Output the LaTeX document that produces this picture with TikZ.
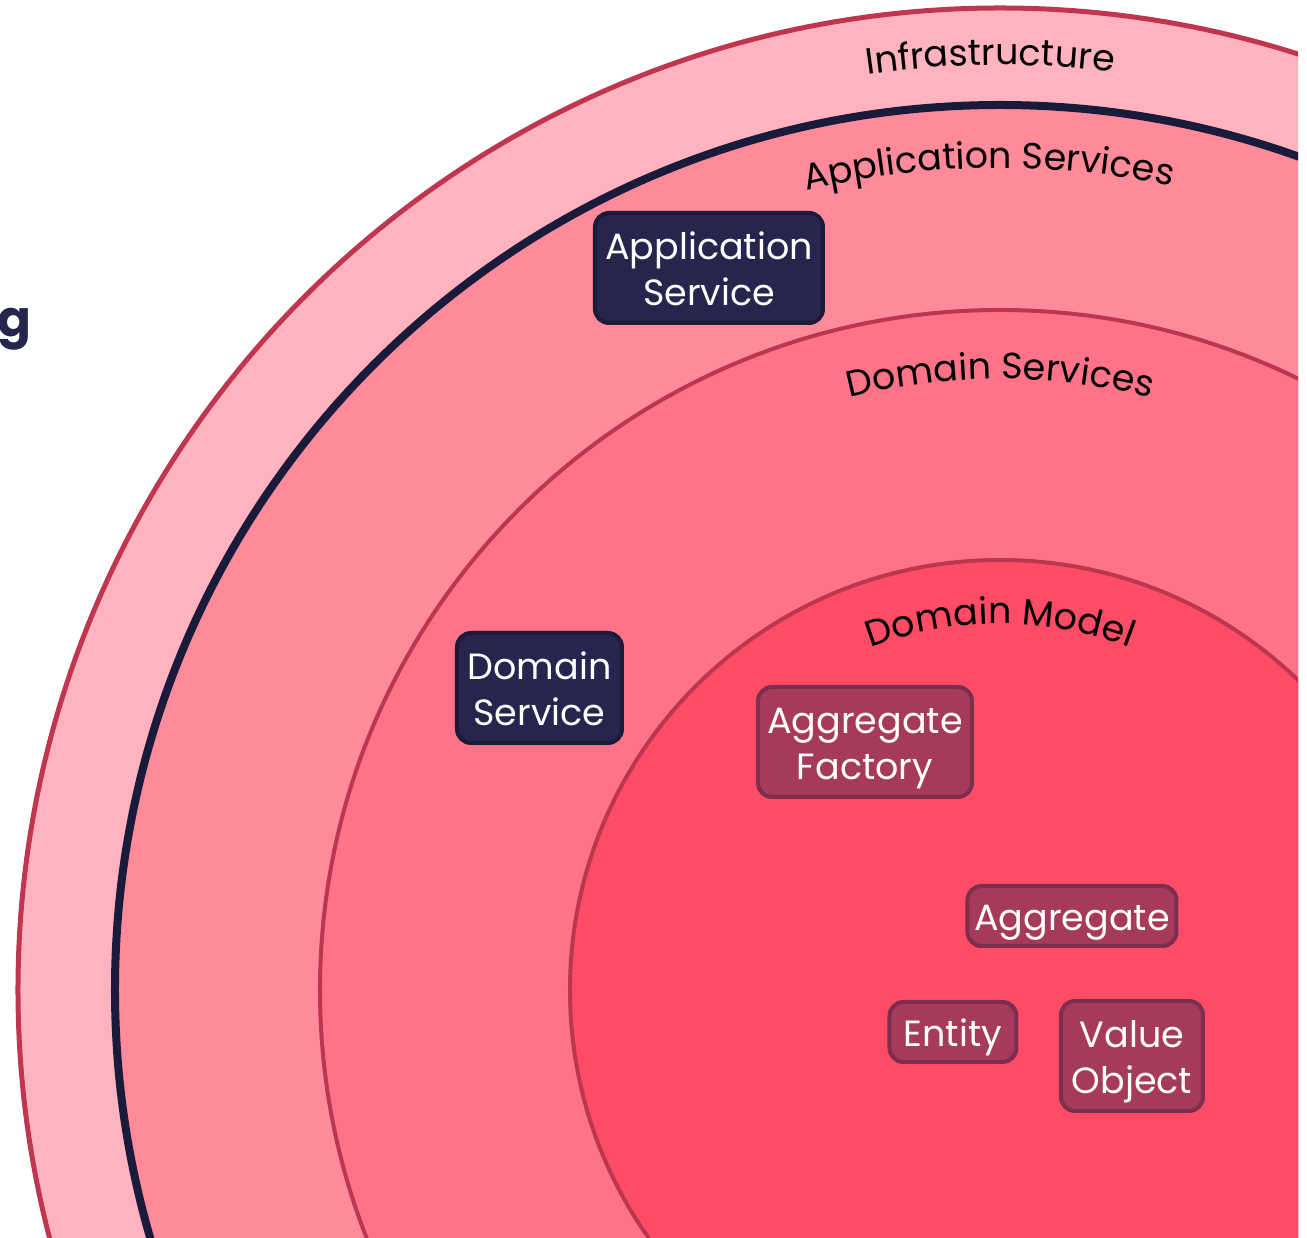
\documentclass[tikz,border=0pt]{standalone}
\usepackage{fontspec}
\setmainfont{Poppins}
\usetikzlibrary{decorations.text}

\definecolor{infraFill}{HTML}{FFB3BF}
\definecolor{infraLine}{HTML}{C0364E}
\definecolor{appFill}{HTML}{FF8A9A}
\definecolor{navyLine}{HTML}{1A1A3A}
\definecolor{dsFill}{HTML}{FF7388}
\definecolor{dmFill}{HTML}{FF4C66}
\definecolor{ringLine}{HTML}{BC3650}
\definecolor{navyBox}{HTML}{25254D}
\definecolor{navyBoxLine}{HTML}{1B1B38}
\definecolor{plumBox}{HTML}{A63A5A}
\definecolor{plumBoxLine}{HTML}{7D2D4D}
\definecolor{titleNavy}{HTML}{25254D}

\newcommand{\boxfont}{\fontsize{36.5}{46}\selectfont}
\newcommand{\ringfont}{\fontsize{36.5}{44}\selectfont}
% box caption, set a little below the optical centre of its box
\newcommand{\boxcaption}[1]{\raisebox{-5pt}[\height][\depth]{\begin{tabular}{@{}c@{}}#1\end{tabular}}}

\tikzset{
  ring/.style={line width=#1},
  svcbox/.style={rounded corners=14, line width=4, text=white,
    font=\boxfont, inner sep=0pt},
  navybox/.style={svcbox, fill=navyBox, draw=navyBoxLine},
  plumbox/.style={svcbox, fill=plumBox, draw=plumBoxLine},
  ringlabel/.style={decorate, decoration={text along path, text align=center,
    text={|\ringfont|#1}}}
}

\begin{document}
\begin{tikzpicture}[x=1pt,y=1pt]
  \useasboundingbox (-1000,-248) rectangle (307,990);

  \begin{scope}
    \clip (-1000,-248) rectangle (298,990);
    % concentric layers
    \filldraw[fill=infraFill, draw=infraLine, ring=5] (0,0) circle[radius=982];
    \filldraw[fill=appFill, draw=navyLine, ring=8] (0,0) circle[radius=885];
    \filldraw[fill=dsFill, draw=ringLine, ring=4] (0,0) circle[radius=680];
    \filldraw[fill=dmFill, draw=ringLine, ring=4] (0,0) circle[radius=430];

    % layer names along the rings
    \path[ringlabel=Infrastructure] (0,0) ++(180.6:925) arc[start angle=180.6, end angle=0.6, radius=925];
    \path[ringlabel=Application Services] (0,0) ++(180.8:822) arc[start angle=180.8, end angle=0.8, radius=822];
    \path[ringlabel=Domain Services] (0,0) ++(180:611) arc[start angle=180, end angle=0, radius=611];
    \path[ringlabel=Domain Model] (0,0) ++(180:366) arc[start angle=180, end angle=0, radius=366];
  \end{scope}

  % building blocks
  \node[navybox, minimum width=228, minimum height=110] (appsvc) at (-291,722) {\boxcaption{Application\\Service}};
  \node[navybox, minimum width=165, minimum height=110] (domsvc) at (-460.5,302) {\boxcaption{Domain\\Service}};
  \node[plumbox, minimum width=214, minimum height=110] (aggfac) at (-135,248) {\boxcaption{Aggregate\\Factory}};
  \node[plumbox, minimum width=209, minimum height=60] (agg) at (72,74) {\boxcaption{Aggregate}};
  \node[plumbox, minimum width=127, minimum height=60] (entity) at (-47,-42) {\boxcaption{Entity}};
  \node[plumbox, minimum width=142, minimum height=110] (vo) at (132,-66) {\boxcaption{Value\\Object}};

  % title fragment at the left margin
  \node[anchor=base east, inner sep=0pt, text=titleNavy,
        font=\fontsize{50}{60}\selectfont\bfseries] (title) at (-968,653) {g};
\end{tikzpicture}
\end{document}
